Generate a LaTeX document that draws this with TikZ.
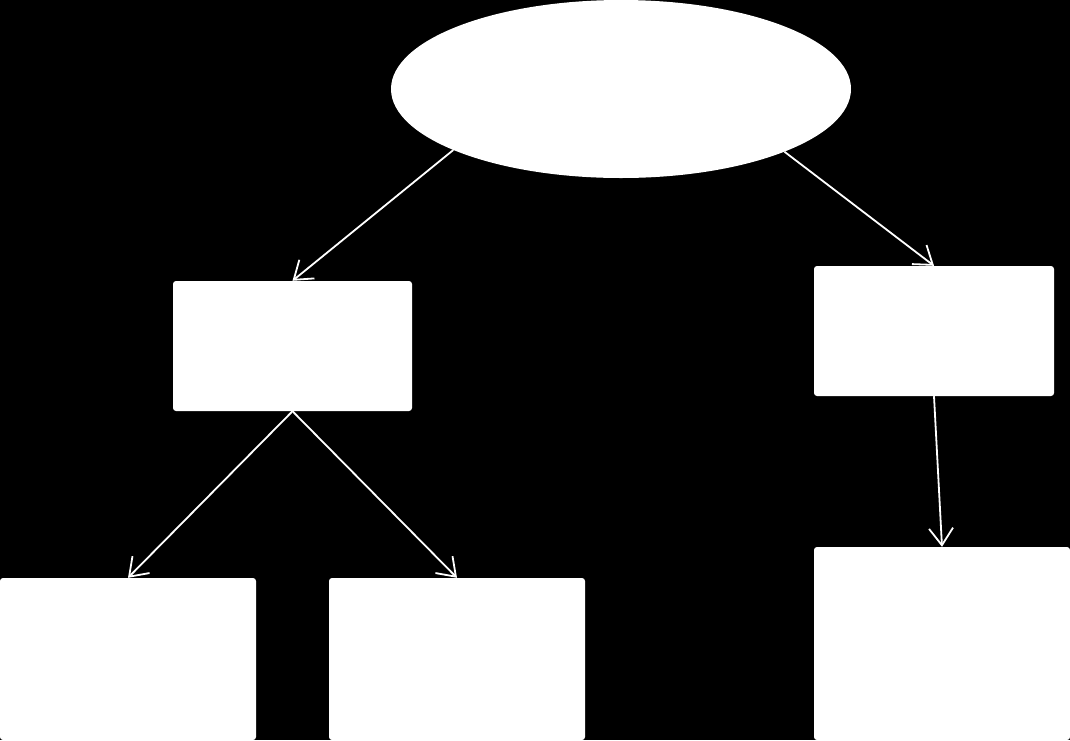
\documentclass[tikz,border=0pt]{standalone}
\usepackage{tikz}
\usetikzlibrary{arrows.meta,shapes.geometric}
\tikzset{
  bg/.style={fill=black},
  blob/.style={ellipse,fill=white,draw=none,inner sep=0pt,
    minimum width=460pt,minimum height=178pt},
  card/.style={rectangle,fill=white,draw=none,rounded corners=3pt,inner sep=0pt},
  link/.style={white,line width=1.8pt,-{Straight Barb[length=17pt,width=24pt,line width=1.8pt]}}
}
\begin{document}
\begin{tikzpicture}[x=1pt,y=-1pt]
  % background and frame
  \fill[bg] (0,0) rectangle (1070,740);
  \useasboundingbox (0,0) rectangle (1070,740);
  % top ellipse
  \node[blob] (root) at (621,89) {};
  % second level
  \node[card,minimum width=239pt,minimum height=130pt] (left) at (292.5,346) {};
  \node[card,minimum width=240pt,minimum height=130pt] (right) at (934,331) {};
  % third level
  \node[card,minimum width=256pt,minimum height=162pt] (leftA) at (128,659) {};
  \node[card,minimum width=256pt,minimum height=162pt] (leftB) at (457,659) {};
  \node[card,minimum width=256pt,minimum height=193pt] (rightA) at (942,643.5) {};
  % links
  \draw[link] (root.200.8) -- (left.north);
  \draw[link] (root.339.3) -- (right.north);
  \draw[link] (left.south) -- (leftA.north);
  \draw[link] (left.south) -- (leftB.north);
  \draw[link] (right.south) -- (rightA.north);
\end{tikzpicture}
\end{document}
